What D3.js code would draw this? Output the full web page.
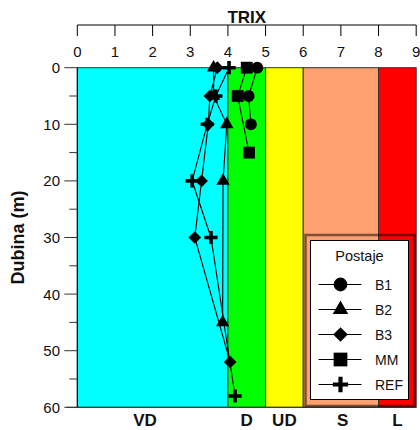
<!DOCTYPE html>
<html><head><meta charset="utf-8">
<script src="https://cdn.jsdelivr.net/npm/d3@7"></script>
<style>
html,body{margin:0;padding:0;background:#fff;}
svg{display:block;font-family:"Liberation Sans",Arial,sans-serif;}
</style></head>
<body>
<svg id="chart" width="420" height="430"></svg>
<script>
// ---- data ----
const xTicks = [0,1,2,3,4,5,6,7,8,9];
const yMajorTicks = [0,10,20,30,40,50,60];
const yMinorTicks = [5,15,25,35,45,55];
const zoneNames = ["VD","D","UD","S","L"];
const zoneFrom  = [0,4,5,6,8];
const zoneTo    = [4,5,6,8,9];
const zoneLabelAt = [1.8,4.5,5.5,7.05,8.5];
const zoneColors = ["#00FFFF","#00FF00","#FFFF00","#FFA070","#FF0000"];

const seriesNames = ["B1","B2","B3","MM","REF"];
const depthB1 = [0,5,10];
const trixB1  = [4.78,4.55,4.61];
const depthB2 = [0,5,10,20,45];
const trixB2  = [3.62,3.62,3.97,3.87,3.86];
const depthB3 = [0,5,10,20,30,52];
const trixB3  = [3.72,3.52,3.48,3.30,3.12,4.06];
const depthMM = [0,5,15];
const trixMM  = [4.50,4.26,4.56];
const depthREF = [0,5,10,20,30,58];
const trixREF  = [4.03,3.68,3.45,3.05,3.55,4.19];

const series = [
  {name:"B1", sym:"circle", d:depthB1, v:trixB1},
  {name:"B2", sym:"triangle", d:depthB2, v:trixB2},
  {name:"B3", sym:"diamond", d:depthB3, v:trixB3},
  {name:"MM", sym:"square", d:depthMM, v:trixMM},
  {name:"REF", sym:"cross", d:depthREF, v:trixREF}
];

// ---- layout ----
const svg = d3.select("#chart");
const x = d3.scaleLinear().domain([0,9]).range([77.3,416.2]);
const y = d3.scaleLinear().domain([0,60]).range([67.7,407.3]);

// zones
const zones = zoneNames.map((n,i)=>({name:n,from:zoneFrom[i],to:zoneTo[i],at:zoneLabelAt[i],color:zoneColors[i]}));
svg.append("g").selectAll("rect").data(zones).join("rect")
  .attr("x",d=>x(d.from)).attr("y",y(0))
  .attr("width",d=>x(d.to)-x(d.from)).attr("height",y(60)-y(0))
  .attr("fill",d=>d.color).attr("stroke","#333").attr("stroke-width",1);

// zone labels
svg.append("g").selectAll("text").data(zones).join("text")
  .attr("x",d=>x(d.at)).attr("y",426)
  .attr("text-anchor","middle").attr("font-size",17).attr("font-weight","bold")
  .attr("fill","#111").text(d=>d.name);

// top axis
const gTop = svg.append("g");
gTop.append("line").attr("x1",x(0)).attr("x2",x(9)).attr("y1",25).attr("y2",25)
  .attr("stroke","#000").attr("stroke-width",1);
gTop.selectAll("line.t").data(xTicks).join("line").attr("class","t")
  .attr("x1",d=>x(d)).attr("x2",d=>x(d)).attr("y1",25).attr("y2",36)
  .attr("stroke","#000").attr("stroke-width",1);
gTop.selectAll("text").data(xTicks).join("text")
  .attr("x",d=>x(d)).attr("y",57).attr("text-anchor","middle")
  .attr("font-size",15).attr("fill","#111").text(d=>d);
svg.append("text").attr("x",(x(0)+x(9))/2).attr("y",22.5).attr("text-anchor","middle")
  .attr("font-size",17).attr("font-weight","bold").attr("fill","#111").text("TRIX");

// left axis
const gLeft = svg.append("g");
gLeft.append("line").attr("x1",x(0)).attr("x2",x(0)).attr("y1",y(0)).attr("y2",y(60))
  .attr("stroke","#000");
gLeft.selectAll("line.M").data(yMajorTicks).join("line").attr("class","M")
  .attr("x1",x(0)-13).attr("x2",x(0)).attr("y1",d=>y(d)).attr("y2",d=>y(d))
  .attr("stroke","#333");
gLeft.selectAll("line.m").data(yMinorTicks).join("line").attr("class","m")
  .attr("x1",x(0)-8).attr("x2",x(0)).attr("y1",d=>y(d)).attr("y2",d=>y(d))
  .attr("stroke","#333");
gLeft.selectAll("text").data(yMajorTicks).join("text")
  .attr("x",60).attr("y",d=>y(d)).attr("dy","0.36em").attr("text-anchor","end")
  .attr("font-size",15).attr("fill","#111").text(d=>d);
svg.append("line").attr("x1",x(0)-11).attr("x2",x(9)).attr("y1",y(60)).attr("y2",y(60))
  .attr("stroke","#333");
svg.append("text").attr("transform",`translate(24,${(y(0)+y(60))/2}) rotate(-90)`)
  .attr("text-anchor","middle").attr("font-size",18).attr("font-weight","bold")
  .attr("fill","#111").text("Dubina (m)");

// symbols
const diamondType = {draw(ctx,size){const r=Math.sqrt(size/2);ctx.moveTo(0,-r);ctx.lineTo(r,0);ctx.lineTo(0,r);ctx.lineTo(-r,0);ctx.closePath();}};
const crossType = {draw(ctx,size){const k=Math.sqrt(size/100),a=6.6*k,t=1.8*k;ctx.moveTo(-a,-t);ctx.lineTo(-t,-t);ctx.lineTo(-t,-a);ctx.lineTo(t,-a);ctx.lineTo(t,-t);ctx.lineTo(a,-t);ctx.lineTo(a,t);ctx.lineTo(t,t);ctx.lineTo(t,a);ctx.lineTo(-t,a);ctx.lineTo(-t,t);ctx.lineTo(-a,t);ctx.closePath();}};
const symTypes = {circle:d3.symbolCircle, triangle:d3.symbolTriangle, diamond:diamondType, square:d3.symbolSquare, cross:crossType};
const symSizes = {circle:110, triangle:78, diamond:80, square:140, cross:100};
const symPath = (name,scale)=>d3.symbol().type(symTypes[name]).size(symSizes[name]*scale)();

const line = d3.line().x(p=>x(p[1])).y(p=>y(p[0]));
const gS = svg.append("g");
series.forEach(s=>{
  const pts = s.d.map((d,i)=>[d,s.v[i]]);
  gS.append("path").datum(pts).attr("d",line).attr("fill","none")
    .attr("stroke","#000").attr("stroke-width",1.1);
});
series.forEach(s=>{
  const pts = s.d.map((d,i)=>[d,s.v[i]]);
  gS.selectAll(null).data(pts).join("path")
    .attr("transform",p=>`translate(${x(p[1])},${y(p[0])})`)
    .attr("d",symPath(s.sym,1)).attr("fill","#000");
});

// legend
const lg = svg.append("g");
lg.append("rect").attr("x",305.5).attr("y",235).attr("width",109).attr("height",171)
  .attr("fill","none").attr("stroke","rgba(0,0,0,0.5)").attr("stroke-width",2.5);
lg.append("rect").attr("x",310.5).attr("y",240.5).attr("width",98).attr("height",159)
  .attr("fill","#fff").attr("stroke","#000").attr("stroke-width",1);
lg.append("text").attr("x",359.5).attr("y",261).attr("text-anchor","middle")
  .attr("font-size",14.5).attr("fill","#111").text("Postaje");
const ly = d3.scalePoint().domain(seriesNames).range([284.5,384.5]);
series.forEach(s=>{
  const yy = ly(s.name);
  lg.append("line").attr("x1",318.5).attr("x2",361.5).attr("y1",yy).attr("y2",yy)
    .attr("stroke","#000").attr("stroke-width",1.1);
  lg.append("path").attr("transform",`translate(340.5,${yy})`).attr("d",symPath(s.sym,1.35)).attr("fill","#000");
  lg.append("text").attr("x",375).attr("y",yy).attr("dy","0.36em")
    .attr("font-size",14).attr("fill","#111").text(s.name);
});
</script>
</body></html>
